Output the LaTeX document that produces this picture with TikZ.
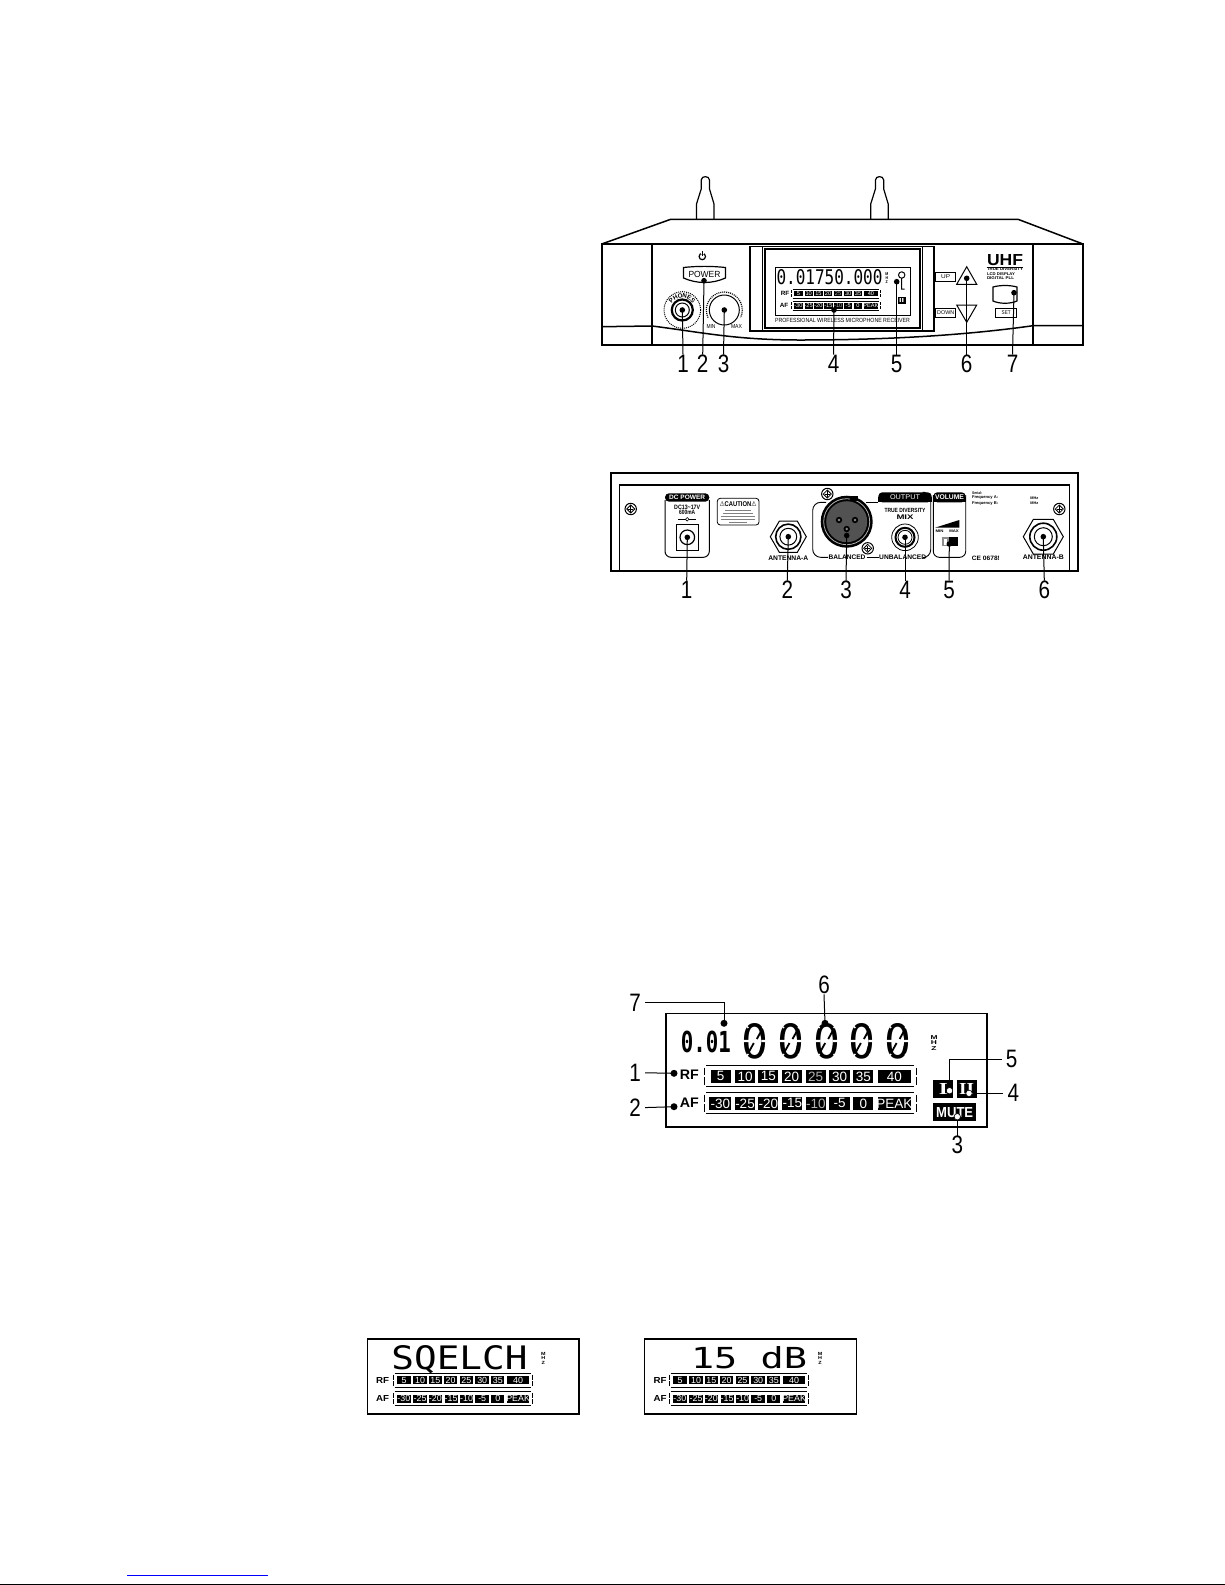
\documentclass[tikz,border=0pt]{standalone}
\usepackage{fontspec}
\usepackage{graphicx}
\usetikzlibrary{calc}
\setmainfont{Liberation Sans}
\newfontfamily\lcdf{DejaVu Sans Mono}
\newfontfamily\symf{DejaVu Sans}
\newfontfamily\serf{Liberation Serif}
\newcommand{\fitt}[3]{\resizebox{\dimexpr#1pt/2\relax}{\dimexpr#2pt/2\relax}{#3}}
\newcommand{\nn}[1]{\scalebox{.82}[1]{#1}}
\tikzset{
  numlabel/.style={inner sep=0pt,font=\fontsize{12.6}{12.6}\selectfont},
  dotn/.style={circle,fill=black,inner sep=0pt,minimum size=2.8pt},
  dotb/.style={circle,fill=black,inner sep=0pt,minimum size=3.5pt},
  wdot/.style={circle,fill=white,draw=black,line width=.3pt,inner sep=0pt,minimum size=3.2pt},
  conn/.style={line width=.5pt,draw=black},
  txt/.style={inner sep=0pt},
  panel/.style={line width=.75pt,draw=black},
  cellt/.style={inner sep=0pt,text=white,font=\fontsize{6.75}{6.75}\selectfont},
  smallbox/.style={draw=black,line width=.45pt,inner sep=0pt},
}
% level bars: prefix, x, y, scale, colour of the dim cell
\newcommand{\lcdbar}[6]{%
 \begin{scope}[shift={(#2,#3)},scale=#4,transform shape]
  \draw[line width=.45pt] (2,0)--(209.7,0) (2,21)--(209.7,21)
     (0,2)--(0,9.5) (0,11.5)--(0,19) (211.7,2)--(211.7,9.5) (211.7,11.5)--(211.7,19);
  \foreach \a/\b/\t/\c in {#6}{
    \fill[black] (\a,4.3) rectangle (\b,17);
    \node[cellt,text=\c] (#1\t) at ({(\a+\b)/2},10.7) {#5\t};
  }
 \end{scope}}
\newcommand{\rfcells}{6.3/26.3/5/white,30.7/50.7/10/white,54/74/15/white,77.3/97.3/20/white,101.3/121.3/25/dimc,125/145.7/30/white,149/169/35/white,173.3/206.7/40/white}
\newcommand{\afcells}{5/27/-30/white,30.7/50.7/-25/white,54/74/-20/white,78/98/-15/white,101.3/122/-10/dimc,125/145.7/-5/white,149/169/0/white,173.3/206.7/PEAK/white}
\newcommand{\rfbar}[4]{\colorlet{dimc}{#4}\expandafter\lcdbarx\expandafter{\rfcells}{#1}{#2}{#3}}
\newcommand{\afbar}[4]{\colorlet{dimc}{#4}\expandafter\lcdbarx\expandafter{\afcells}{#1}{#2}{#3}}
\newcommand{\lcdbarx}[4]{\lcdbar{#2}{#3}{#4}{\barscale}{}{#1}}
\newcommand{\backscrew}[2]{%
  \begin{scope}[shift={(#1,#2)}]
   \draw[line width=.5pt] (0,0) circle[radius=5.7];
   \draw[line width=.4pt] (0,-4)--(4,0)--(0,4)--(-4,0)--cycle;
   \fill (-.5,-2.6) rectangle (.5,2.6); \fill (-2.6,-.5) rectangle (2.6,.5);
  \end{scope}}
\newcommand{\nut}[2]{%
  \begin{scope}[shift={(#1)}]
   \draw[line width=.5pt] (0:#2)--(60:#2)--(120:#2)--(180:#2)--(240:#2)--(300:#2)--cycle;
  \end{scope}}
\begin{document}
\begin{tikzpicture}[x=.5pt,y=-.5pt]
\useasboundingbox (0,0) rectangle (1225,1585);
\fill[white] (0,0) rectangle (1225,1585);

%% ---------- FRONT PANEL
\foreach \ax in {696.5,870.7}{
 \draw[line width=.6pt] (\ax,219)--(\ax,204)--(\ax+4.7,189)--(\ax+4.7,180)
   .. controls (\ax+5,175.5) and (\ax+12.7,175.5) .. (\ax+13,180)--(\ax+13,189)--(\ax+17.5,204)--(\ax+17.5,219);
}
\draw[panel] (601.7,244)--(670.7,219.3)--(1018,219.3)--(1083,244);
\draw[line width=.9pt] (601.7,244) rectangle (1083,345);
\draw[panel] (652,244)--(652,345) (1033,244)--(1033,345);
\draw[panel] (601.7,326.7)--(652,326) .. controls (700,332) and (735,340) .. (800,340)
   .. controls (880,340) and (960,336) .. (1033,325.7)--(1083,325.7);
% display bezel
\fill[white] (750,246) rectangle (934,331);
\draw[panel] (750,246.7) rectangle (934,331);
\draw[panel] (762.7,246.7)--(762.7,331) (922.7,246.7)--(922.7,331);
\draw[line width=.9pt,fill=white] (765,249) rectangle (920,328);
\draw[line width=.5pt] (775,267.3) rectangle (910.7,315.7);
\node[txt] (ftxtfreq) at (829.5,277.5) {\fitt{106}{15}{\lcdf 0.01750.000}};
\node[txt] (ftxtmhz) at (886.8,278) {\fitt{3}{11}{\bfseries\shortstack{M\\H\\Z}}};
\draw[line width=.5pt] (901.7,275) circle[radius=3.2] (901.7,278.2)--(901.7,289)--(904.5,289);
\node[fill=black,inner sep=0pt,minimum width=4pt,minimum height=3.5pt,text=white] (fii) at (901.7,300) {\fitt{5}{4}{\bfseries II}};
\node[txt] (frf) at (785,293.3) {\fitt{8.5}{4.2}{\bfseries RF}};
\node[txt] (faf) at (784,305.7) {\fitt{8.5}{4.2}{\bfseries AF}};
\def\barscale{.417}
\rfbar{fr}{791.7}{289.3}{gray!60}
\afbar{fa}{791.7}{301.5}{gray!60}
\node[txt] (fprof) at (842.5,320.3) {\fitt{135}{4.2}{PROFESSIONAL WIRELESS MICROPHONE RECEIVER}};
% power
\draw[line width=.6pt] (702.3,256.5) circle[radius=3.2];
\fill[white] (700.9,251) rectangle (703.7,254);
\draw[line width=.6pt] (702.3,251)--(702.3,256);
\draw[line width=.6pt] (683.5,267.5) .. controls (697,266) and (712,266) .. (725.5,267.5)--(725.5,278)
   .. controls (712,284) and (697,284) .. (683.5,278)--cycle;
\node[txt] (fpower) at (704.5,274.5) {\fitt{32}{6.2}{POWER}};
% phones
\draw[line width=1.1pt] (682.3,310) circle[radius=10.5];
\draw[line width=.5pt] (682.3,310) circle[radius=7];
\draw[line width=.5pt,dash pattern=on .5pt off .5pt] (682.3,310) circle[radius=18.3];
\foreach \l/\ang [count=\k] in {P/-140,H/-119,O/-99,N/-80,E/-61,S/-42}{
  \node[txt,rotate={-(\ang+90)},font=\fontsize{3.1}{3.1}\bfseries\selectfont] (fph\k) at ($(682.3,310)+(\ang:14.3)$) {\l};
}
% volume
\draw[line width=.5pt] (724.3,310) circle[radius=15];
\draw[line width=.6pt,dash pattern=on .5pt off .5pt] (724.3,310) ++(-205:18) arc[start angle=-205,end angle=25,radius=18];
\node[txt] (fmin) at (711,326.5) {\fitt{9}{4}{MIN}};
\node[txt] (fmax) at (736.5,326.5) {\fitt{11}{4}{MAX}};
% up down
\node[smallbox,minimum width=10pt,minimum height=4.7pt] (fupb) at (945.7,277) {\fitt{9}{3.8}{UP}};
\node[smallbox,minimum width=10pt,minimum height=4.5pt] (fdnb) at (945.7,312.8) {\fitt{17}{3.8}{DOWN}};
\draw[line width=.5pt] (966.7,266.7)--(956.7,284.3)--(976.7,284.3)--cycle;
\draw[line width=.5pt] (956.7,305)--(976.7,305)--(966.7,322.3)--cycle;
\node[txt] (fuhf) at (1005,260.5) {\fitt{36}{11}{\bfseries UHF}};
\draw[line width=.7pt] (986.7,267.2)--(1023.3,267.2);
\node[txt] (ft1) at (1005,269.6) {\fitt{36}{2.8}{\bfseries TRUE DIVERSITY}};
\node[txt] (ft2) at (1001,273.8) {\fitt{28}{2.8}{\bfseries LCD DISPLAY}};
\node[txt] (ft3) at (1000.5,278) {\fitt{27}{2.8}{\bfseries DIGITAL PLL}};
\draw[line width=.6pt] (993,287) .. controls (1000,285) and (1010,285) .. (1017,287)--(1017,301)
   .. controls (1010,304) and (1000,304) .. (993,301)--cycle;
\node[smallbox,minimum width=10.5pt,minimum height=4.5pt] (fsetb) at (1006.2,312.8) {\fitt{9}{3.8}{SET}};
% front numbers and leaders
\foreach \n/\dx/\dy/\nx in {1/682.3/310/683,2/704/280.7/702.7,3/724.3/310/723.5,4/834/310/833.5,5/896.7/281.7/896.7,6/966.7/278.3/966.7,7/1014/292.7/1012.5}{
  \node[dotn] (f\n d) at (\dx,\dy) {};
  \node[numlabel,anchor=north] (f\n) at (\nx,354.5) {\nn{\n}};
  \draw[conn] (f\n d.center)--(f\n.north);
}

%% ---------- BACK PANEL
\draw[line width=.9pt] (610.7,571)--(610.7,473.3)--(1078.3,473.3)--(1078.3,571)--cycle;
\draw[panel] (619.3,571)--(619.3,485)--(1069.3,485)--(1069.3,571);
\backscrew{630.7}{509}\backscrew{827.3}{494}\backscrew{867.7}{548.3}\backscrew{1059.3}{509}
% DC power
\draw[line width=.5pt,rounded corners=3pt] (665,500)--(665,557.3)--(709.3,557.3)--(709.3,500);
\fill[black,rounded corners=2pt] (665,493.3) rectangle (709.3,501.7);
\node[txt,text=white] (bdc) at (687.2,497.6) {\fitt{36}{4.4}{\bfseries DC POWER}};
\node[txt] (bdcv) at (687.2,507.4) {\fitt{26}{4.4}{\bfseries DC13\textasciitilde 17V}};
\node[txt] (bdca) at (687.2,512.6) {\fitt{16}{4.4}{\bfseries 600mA}};
\draw[line width=.3pt] (678,519.3)--(696,519.3);
\draw[line width=.3pt,fill=white] (687.2,519.3) circle[radius=1.8];
\draw[line width=.5pt] (676.7,524) rectangle (698.3,550);
\draw[line width=.6pt] (687.3,537.3) circle[radius=7.3];
% caution
\draw[line width=.4pt,rounded corners=1.5pt] (717.3,498.3) rectangle (759,525);
\node[txt] (bcau) at (738,504.2) {\fitt{37}{5}{\bfseries{\symf ⚠}CAUTION{\symf ⚠}}};
\foreach \yy/\ww in {510/13,513/15,516/17,519/17,522/9}{\draw[line width=.35pt,gray] (738-\ww,\yy)--(738+\ww,\yy);}
% antenna A
\nut{788.3,536.7}{18}
\draw[line width=.8pt] (788.3,536.7) circle[radius=12.6];
\draw[line width=.5pt] (788.3,536.7) circle[radius=8.4];
\node[txt] (bana) at (788.3,557.7) {\fitt{40}{4.6}{\bfseries ANTENNA-A}};
% XLR
\draw[line width=.45pt,rounded corners=4pt] (826,502.3)--(812.7,502.3)--(812.7,557.3)--(828,557.3);
\draw[line width=.45pt] (866,502.3)--(878,502.3);
\draw[line width=.45pt] (866.5,557.7)--(879,557.7);
\draw[line width=.45pt,rounded corners=4pt] (926,557.7)--(930.7,557.7)--(930.7,492.3)--(925,492.3);
\fill[black] (846.7,521.7) circle[radius=26];
\fill[black!68] (846.7,521.7) circle[radius=20.5];
\draw[line width=.4pt,white!70!black] (846.7,521.7) circle[radius=23];
\fill[black] (850,496) rectangle (858,501);
\fill[black] (839,520) circle[radius=3.2] (855,520) circle[radius=3.2] (846.7,529) circle[radius=3.2];
\fill[black!45] (839,520) circle[radius=1.3] (855,520) circle[radius=1.3] (846.7,529) circle[radius=1.3];
\node[txt] (bbal) at (847,557.7) {\fitt{37}{4.6}{\bfseries BALANCED}};
\node[txt] (bunb) at (902.7,557.7) {\fitt{47}{4.6}{\bfseries UNBALANCED}};
% output header
\fill[black,rounded corners=2pt] (878.3,492.3) rectangle (931.7,502.3);
\fill[black] (878.3,497) rectangle (931.7,502.3);
\node[txt,text=white] (bout) at (905,497.5) {\fitt{30}{4.8}{OUTPUT}};
\node[txt] (btd) at (905,510.7) {\fitt{41}{4.2}{\bfseries TRUE DIVERSITY}};
\node[txt] (bmix) at (905,516.8) {\fitt{17}{4.6}{\bfseries MIX}};
\draw[line width=.4pt] (905,537.3) circle[radius=13.3];
\draw[line width=1pt] (905,537.3) circle[radius=9.5];
\draw[line width=.4pt] (905,537.3) circle[radius=7];
% volume
\draw[line width=.45pt,rounded corners=3pt] (933.3,495)--(933.3,557.3)--(965.7,557.3)--(965.7,495);
\fill[black,rounded corners=2pt] (933.3,492.3) rectangle (965.7,502.3);
\fill[black] (933.3,497) rectangle (965.7,502.3);
\node[txt,text=white] (bvol) at (949.5,497.5) {\fitt{29}{4.8}{\bfseries VOLUME}};
\fill[black] (935,527.7)--(959.3,520)--(959.3,527.7)--cycle;
\node[txt] (bvmin) at (939.5,530.8) {\fitt{8}{2.6}{\bfseries MIN}};
\node[txt] (bvmax) at (954,530.8) {\fitt{9.5}{2.6}{\bfseries MAX}};
\fill[black!45] (941.7,537.3) rectangle (958.3,546);
\fill[white] (943.5,539) rectangle (947,544.5);
\fill[black] (948.5,537.3) rectangle (958.3,546);
% label texts
\node[txt,anchor=west] (bser) at (971.7,492.7) {\fitt{10}{2.8}{\bfseries Serial:}};
\node[txt,anchor=west] (bfa) at (971.7,497.7) {\fitt{26}{2.8}{\bfseries Frequency A:}};
\node[txt,anchor=west] (bfb) at (971.7,503.3) {\fitt{26}{2.8}{\bfseries Frequency B:}};
\node[txt,anchor=west] (bmhz1) at (1030,497.7) {\fitt{8}{2.6}{\bfseries MHz}};
\node[txt,anchor=west] (bmhz2) at (1030,503.3) {\fitt{8}{2.6}{\bfseries MHz}};
\node[txt,anchor=west] (bce) at (971.5,558) {\fitt{28}{4.4}{\bfseries CE 0678!}};
% antenna B
\nut{1043.3,536.7}{20}
\draw[line width=.8pt] (1043.3,536.7) circle[radius=13.5];
\draw[line width=.5pt] (1043.3,536.7) circle[radius=9];
\node[txt] (banb) at (1043.3,557) {\fitt{41}{4.6}{\bfseries ANTENNA-B}};
% back numbers and leaders
\foreach \n/\dx/\dy/\nx in {1/687.3/537.3/686.7,2/788.3/536.7/787.3,3/846.7/535.5/846,4/905/537.3/905,5/949.3/544/949,6/1043.3/536.7/1044.3}{
  \node[dotn] (b\n d) at (\dx,\dy) {};
  \node[numlabel,anchor=north] (b\n) at (\nx,580.5) {\nn{\n}};
  \draw[conn] (b\n d.center)--(b\n.north);
}

%% ---------- LARGE DISPLAY
\draw[line width=.8pt] (666,1013.3) rectangle (986.7,1126.7);
\node[txt] (d001) at (705.8,1041.5) {\fitt{50}{21.5}{\lcdf\bfseries 0.01}};
\foreach \i in {0,...,4}{
  \node[txt] (dz\i) at ({755.3+\i*35.7},1041) {\fitt{27}{35}{\lcdf 0}};
  \begin{scope}[shift={({755.3+\i*35.7},1041)}]
   \fill[white] (0,0) ellipse[x radius=6,y radius=10];
   \fill[white] (-15,-1.2) rectangle (-6,1.2) (6,-1.2) rectangle (15,1.2);
   \draw[white,line width=.7pt] (-7,-13)--(-12,-18) (7,-13)--(12,-18) (-7,13)--(-12,18) (7,13)--(12,18);
   \draw[line width=.9pt] (6.5,-11)--(1.5,-2) (-6.5,11)--(-1.5,2);
  \end{scope}
}
\node[txt] (dmhz) at (934,1043) {\fitt{7}{15}{\bfseries\shortstack{M\\H\\Z}}};
\node[txt] (drf) at (689.3,1074.5) {\fitt{19}{9.5}{\bfseries RF}};
\node[txt] (daf) at (689.3,1102.5) {\fitt{19}{9.5}{\bfseries AF}};
\def\barscale{1}
\rfbar{dr}{704.3}{1065.7}{gray!60}
\afbar{da}{704.3}{1092.7}{gray!60}
\node[fill=black,text=white,inner sep=0pt,minimum width=10pt,minimum height=9.2pt] (dIb) at (943.3,1089.2) {\fitt{9}{11}{\serf\bfseries I}};
\node[fill=black,text=white,inner sep=0pt,minimum width=10pt,minimum height=9.2pt] (dIIb) at (966.7,1089.2) {\fitt{15}{11}{\serf\bfseries II}};
\node[fill=black,text=white,inner sep=0pt,minimum width=21.5pt,minimum height=8.8pt] (dmute) at (954.7,1112.2) {\fitt{37}{10}{\bfseries MUTE}};
% large display numbers and leaders
\node[dotb] (d1d) at (674,1073.3) {};
\node[dotb] (d2d) at (674,1106.7) {};
\node[dotb] (d7d) at (724,1023.3) {};
\node[dotb] (d6d) at (825,1023.3) {};
\node[wdot] (d5d) at (949.5,1090.7) {};
\node[wdot] (d4d) at (969,1093.3) {};
\node[wdot] (d3d) at (957.3,1116.7) {};
\node[numlabel] (d1) at (635,1072.7) {\nn{1}};
\node[numlabel] (d2) at (635,1107.7) {\nn{2}};
\node[numlabel] (d3) at (957.3,1145) {\nn{3}};
\node[numlabel] (d4) at (1013.3,1093.3) {\nn{4}};
\node[numlabel] (d5) at (1011.7,1059.3) {\nn{5}};
\node[numlabel] (d6) at (824,985) {\nn{6}};
\node[numlabel] (d7) at (635,1002.7) {\nn{7}};
\draw[conn,shorten >=2pt] (d1d.center)--(d1.east);
\draw[conn,shorten >=2pt] (d2d.center)--(d2.east);
\draw[conn] (d3d.south)--(d3.north);
\draw[conn,shorten >=2pt] (d4d.east)--(d4.west);
\draw[conn,shorten >=2pt] (d5d.north) |- (d5.west);
\draw[conn] (d6d.center)--(d6.south);
\draw[conn,shorten >=2pt] (d7d.center) |- (d7.east);

%% ---------- SMALL DISPLAYS
\draw[line width=.7pt] (367.7,1339) rectangle (579,1414);
\node[txt] (s1t) at (459.5,1360) {\fitt{136}{24}{\lcdf SQELCH}};
\node[txt] (s1m) at (543.3,1358) {\fitt{4.5}{12}{\bfseries\shortstack{M\\H\\Z}}};
\node[txt] (s1rf) at (382.7,1380) {\fitt{13}{6}{\bfseries RF}};
\node[txt] (s1af) at (382.7,1398.3) {\fitt{13}{6}{\bfseries AF}};
\def\barscale{.657}
\rfbar{s1r}{393.3}{1373.3}{white}
\afbar{s1a}{393.3}{1391.7}{white}
\draw[line width=.7pt] (644.3,1339) rectangle (856.7,1414);
\node[txt] (s2t) at (749,1358) {\fitt{116}{22}{\lcdf 15 dB}};
\node[txt] (s2m) at (820,1358) {\fitt{4.5}{12}{\bfseries\shortstack{M\\H\\Z}}};
\node[txt] (s2rf) at (660,1380) {\fitt{13}{6}{\bfseries RF}};
\node[txt] (s2af) at (660,1398.3) {\fitt{13}{6}{\bfseries AF}};
\rfbar{s2r}{669.3}{1373.3}{white}
\afbar{s2a}{669.3}{1391.7}{white}

%% ---------- BOTTOM RULES
\draw[blue,line width=.5pt] (127,1575)--(268,1575);
\draw[black,line width=.5pt] (0,1584.3)--(1225,1584.3);
\end{tikzpicture}
\end{document}
